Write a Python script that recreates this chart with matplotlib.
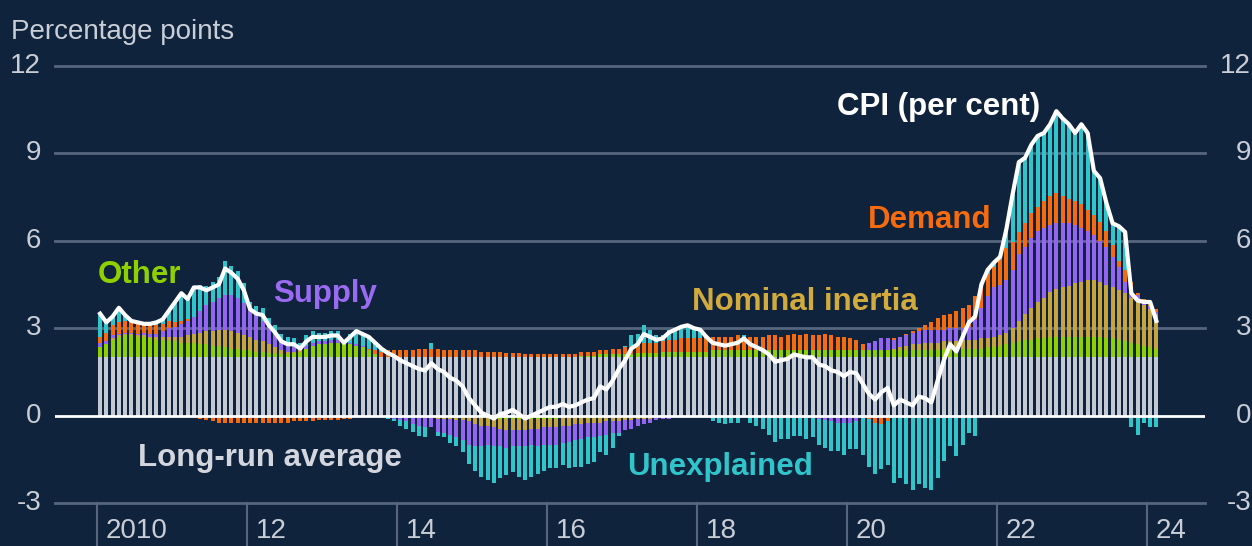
import numpy as np
import pandas as pd
import matplotlib
matplotlib.use("Agg")
import matplotlib.pyplot as plt

# monthly observations, Jan 2010 - Feb 2024
months = pd.date_range("2010-01-01", "2024-02-01", freq="MS")

cpi = [
    3.5, 3.2, 3.4, 3.7, 3.45, 3.25, 3.2, 3.15, 3.15, 3.2, 3.3, 3.6,        # 2010
    3.9, 4.2, 4.0, 4.4, 4.4, 4.3, 4.4, 4.5, 5.05, 4.9, 4.7, 4.3,           # 2011
    3.65, 3.5, 3.45, 3.1, 2.85, 2.55, 2.45, 2.45, 2.3, 2.55, 2.7, 2.7,     # 2012
    2.7, 2.75, 2.75, 2.5, 2.7, 2.9, 2.8, 2.7, 2.5, 2.3, 2.15, 2.05,        # 2013
    1.9, 1.8, 1.7, 1.6, 1.55, 1.8, 1.6, 1.5, 1.3, 1.2, 1.0, 0.6,           # 2014
    0.35, 0.1, 0.0, -0.1, 0.05, 0.1, 0.2, 0.05, -0.1, 0.0, 0.1, 0.2,       # 2015
    0.3, 0.3, 0.4, 0.3, 0.35, 0.45, 0.55, 0.6, 1.0, 0.9, 1.2, 1.6,         # 2016
    1.9, 2.3, 2.45, 2.8, 2.7, 2.6, 2.65, 2.85, 2.95, 3.05, 3.1, 3.0,       # 2017
    2.95, 2.7, 2.5, 2.45, 2.4, 2.45, 2.5, 2.65, 2.45, 2.35, 2.25, 2.1,     # 2018
    1.85, 1.9, 1.95, 2.1, 2.05, 2.0, 2.0, 1.75, 1.7, 1.55, 1.5, 1.35,      # 2019
    1.5, 1.45, 1.1, 0.75, 0.55, 0.8, 0.95, 0.35, 0.55, 0.45, 0.35, 0.65,   # 2020
    0.6, 0.45, 1.2, 1.9, 2.45, 2.2, 2.7, 3.2, 3.4, 4.5, 5.0, 5.25,         # 2021
    5.45, 6.4, 7.6, 8.7, 8.85, 9.3, 9.6, 9.7, 10.0, 10.45, 10.2, 10.0,     # 2022
    9.7, 10.0, 9.7, 8.4, 8.15, 7.3, 6.6, 6.5, 6.3, 4.2, 3.95, 3.9,         # 2023
    3.9, 3.25,                                                              # 2024
]

other = [
    0.35, 0.45, 0.6, 0.7, 0.75, 0.75, 0.7, 0.7, 0.65, 0.6, 0.6, 0.55,
    0.55, 0.5, 0.5, 0.5, 0.45, 0.45, 0.4, 0.4, 0.35, 0.3, 0.3, 0.25,
    0.25, 0.2, 0.2, 0.15, 0.15, 0.1, 0.1, 0.15, 0.2, 0.3, 0.4, 0.45,
    0.45, 0.5, 0.5, 0.45, 0.45, 0.4, 0.35, 0.25, 0.1, 0.0, 0.0, 0.0,
    0.0, 0.0, 0.0, 0.0, 0.0, 0.0, 0.0, 0.0, 0.0, 0.0, 0.0, 0.0,
    -0.05, -0.05, -0.05, -0.05, -0.1, -0.1, -0.1, -0.1, -0.1, -0.1, -0.1, -0.1,
    -0.1, -0.1, -0.05, -0.05, 0.0, 0.05, 0.05, 0.05, 0.1, 0.1, 0.1, 0.1,
    0.1, 0.1, 0.15, 0.15, 0.15, 0.15, 0.2, 0.2, 0.2, 0.2, 0.2, 0.2,
    0.2, 0.2, 0.25, 0.25, 0.25, 0.25, 0.25, 0.25, 0.25, 0.25, 0.25, 0.25,
    0.25, 0.25, 0.25, 0.25, 0.25, 0.25, 0.25, 0.25, 0.25, 0.25, 0.25, 0.25,
    0.25, 0.25, 0.25, 0.25, 0.25, 0.25, 0.25, 0.25, 0.25, 0.25, 0.25, 0.25,
    0.25, 0.25, 0.25, 0.3, 0.3, 0.3, 0.3, 0.3, 0.3, 0.3, 0.35, 0.35,
    0.4, 0.45, 0.5, 0.55, 0.6, 0.6, 0.65, 0.65, 0.7, 0.7, 0.7, 0.7,
    0.7, 0.7, 0.7, 0.7, 0.7, 0.65, 0.65, 0.6, 0.55, 0.5, 0.45, 0.4,
    0.35, 0.3,
]

nominal_inertia = [
    0.0, 0.0, 0.05, 0.05, 0.05, 0.05, 0.05, 0.05, 0.05, 0.1, 0.1, 0.15,
    0.15, 0.2, 0.25, 0.3, 0.4, 0.45, 0.5, 0.55, 0.6, 0.6, 0.55, 0.5,
    0.45, 0.4, 0.35, 0.3, 0.2, 0.15, 0.1, 0.05, 0.05, 0.0, 0.0, 0.0,
    0.0, 0.0, 0.0, 0.0, 0.0, 0.0, 0.0, 0.0, 0.0, 0.0, 0.0, 0.0,
    0.0, 0.0, -0.05, -0.05, -0.05, -0.05, -0.1, -0.1, -0.1, -0.15, -0.15, -0.2,
    -0.25, -0.3, -0.3, -0.35, -0.35, -0.4, -0.4, -0.4, -0.4, -0.35, -0.35, -0.3,
    -0.3, -0.3, -0.3, -0.3, -0.3, -0.3, -0.25, -0.25, -0.25, -0.2, -0.2, -0.2,
    -0.15, -0.15, -0.1, -0.1, -0.1, -0.05, -0.05, -0.05, 0.0, 0.0, 0.0, 0.0,
    0.0, -0.05, -0.05, -0.05, -0.05, -0.05, -0.05, -0.05, -0.05, -0.05, -0.05, -0.05,
    -0.05, -0.05, -0.05, -0.05, -0.05, -0.05, -0.05, -0.05, -0.05, -0.05, -0.05, -0.05,
    -0.05, -0.05, 0.0, 0.0, 0.0, 0.0, 0.0, 0.05, 0.1, 0.15, 0.2, 0.2,
    0.25, 0.25, 0.25, 0.25, 0.25, 0.25, 0.3, 0.3, 0.3, 0.35, 0.3, 0.35,
    0.35, 0.4, 0.5, 0.7, 0.9, 1.1, 1.25, 1.4, 1.55, 1.65, 1.7, 1.75,
    1.85, 1.9, 1.95, 1.95, 1.9, 1.85, 1.75, 1.7, 1.65, 1.55, 1.45, 1.4,
    1.3, 1.2,
]

supply = [
    0.15, 0.1, 0.1, 0.05, 0.05, 0.05, 0.05, 0.1, 0.1, 0.1, 0.2, 0.3,
    0.35, 0.45, 0.5, 0.6, 0.75, 0.9, 1.0, 1.1, 1.2, 1.25, 1.2, 1.1,
    1.0, 0.85, 0.7, 0.6, 0.5, 0.35, 0.25, 0.15, 0.1, 0.1, 0.1, 0.1,
    0.1, 0.1, 0.1, 0.1, 0.05, 0.05, 0.05, 0.0, 0.0, 0.0, -0.05, -0.1,
    -0.15, -0.2, -0.25, -0.3, -0.35, -0.35, -0.45, -0.5, -0.55, -0.6, -0.7, -0.8,
    -0.75, -0.7, -0.65, -0.65, -0.6, -0.6, -0.55, -0.55, -0.55, -0.55, -0.6, -0.6,
    -0.6, -0.6, -0.6, -0.55, -0.55, -0.5, -0.5, -0.5, -0.45, -0.45, -0.4, -0.4,
    -0.35, -0.3, -0.25, -0.2, -0.15, -0.1, -0.05, -0.05, -0.05, 0.0, 0.0, 0.0,
    0.0, 0.0, 0.0, 0.0, 0.0, 0.0, 0.0, 0.0, 0.0, 0.0, 0.0, 0.0,
    0.0, 0.0, 0.0, 0.0, 0.0, 0.0, 0.0, -0.05, -0.1, -0.15, -0.2, -0.2,
    -0.2, -0.15, -0.05, 0.25, 0.3, 0.4, 0.4, 0.3, 0.35, 0.35, 0.4, 0.45,
    0.45, 0.45, 0.45, 0.4, 0.45, 0.45, 0.4, 0.45, 0.7, 1.05, 1.45, 1.7,
    1.75, 1.8, 2.0, 2.3, 2.3, 2.4, 2.45, 2.4, 2.3, 2.25, 2.2, 2.15,
    2.0, 1.85, 1.7, 1.55, 1.4, 1.3, 1.05, 0.8, 0.4, 0.25, 0.25, 0.15,
    0.1, 0.05,
]

demand = [
    0.2, 0.3, 0.35, 0.4, 0.4, 0.35, 0.35, 0.3, 0.3, 0.3, 0.25, 0.25,
    0.15, 0.1, 0.05, -0.05, -0.1, -0.15, -0.2, -0.25, -0.25, -0.25, -0.25, -0.25,
    -0.25, -0.25, -0.25, -0.25, -0.25, -0.25, -0.25, -0.2, -0.2, -0.2, -0.2, -0.15,
    -0.15, -0.15, -0.15, -0.1, -0.1, -0.05, 0.0, 0.05, 0.15, 0.2, 0.25, 0.25,
    0.25, 0.25, 0.25, 0.3, 0.3, 0.3, 0.3, 0.25, 0.25, 0.25, 0.25, 0.25,
    0.25, 0.2, 0.2, 0.2, 0.2, 0.15, 0.15, 0.15, 0.1, 0.1, 0.1, 0.1,
    0.1, 0.1, 0.1, 0.1, 0.1, 0.15, 0.15, 0.15, 0.15, 0.15, 0.2, 0.2,
    0.25, 0.3, 0.3, 0.35, 0.35, 0.35, 0.35, 0.4, 0.4, 0.45, 0.45, 0.45,
    0.45, 0.45, 0.45, 0.45, 0.45, 0.45, 0.5, 0.45, 0.45, 0.45, 0.45, 0.5,
    0.5, 0.45, 0.5, 0.55, 0.5, 0.55, 0.5, 0.5, 0.55, 0.5, 0.45, 0.45,
    0.4, 0.35, 0.2, -0.1, -0.25, -0.3, -0.2, 0.05, 0.0, 0.05, 0.05, 0.1,
    0.15, 0.25, 0.4, 0.5, 0.5, 0.6, 0.7, 0.75, 0.8, 0.7, 0.75, 0.7,
    0.9, 1.1, 0.95, 0.75, 0.8, 0.85, 0.8, 0.9, 1.0, 1.05, 0.95, 0.85,
    0.8, 0.8, 0.7, 0.7, 0.65, 0.55, 0.4, 0.2, 0.4, 0.3, 0.05, 0.05,
    0.1, 0.1,
]

unexplained = [
    0.8, 0.35, 0.3, 0.5, 0.2, 0.05, 0.05, 0.0, 0.05, 0.1, 0.15, 0.35,
    0.7, 0.95, 0.7, 1.05, 0.9, 0.65, 0.7, 0.7, 1.15, 1.0, 0.9, 0.7,
    0.2, 0.3, 0.45, 0.3, 0.25, 0.2, 0.25, 0.3, 0.15, 0.35, 0.4, 0.3,
    0.3, 0.3, 0.3, 0.05, 0.3, 0.5, 0.4, 0.4, 0.25, 0.1, -0.05, -0.1,
    -0.2, -0.25, -0.25, -0.35, -0.35, 0.2, -0.15, -0.15, -0.3, -0.3, -0.4, -0.65,
    -0.85, -1.05, -1.2, -1.25, -1.1, -0.95, -0.9, -1.05, -1.15, -1.1, -0.95, -0.9,
    -0.8, -0.8, -0.75, -0.9, -0.9, -0.95, -0.9, -0.85, -0.55, -0.7, -0.5, -0.1,
    0.05, 0.35, 0.35, 0.6, 0.45, 0.25, 0.2, 0.35, 0.4, 0.4, 0.45, 0.35,
    0.3, 0.1, -0.15, -0.2, -0.25, -0.2, -0.2, 0.05, -0.2, -0.3, -0.4, -0.6,
    -0.85, -0.75, -0.75, -0.65, -0.65, -0.75, -0.7, -0.9, -0.95, -1.0, -0.95, -1.1,
    -0.9, -0.95, -1.3, -1.65, -1.75, -1.55, -1.5, -2.3, -2.15, -2.35, -2.55, -2.35,
    -2.5, -2.55, -2.15, -1.55, -1.05, -1.4, -1.0, -0.6, -0.7, 0.1, 0.15, 0.15,
    0.1, 0.65, 1.65, 2.4, 2.25, 2.35, 2.45, 2.35, 2.45, 2.8, 2.65, 2.55,
    2.35, 2.75, 2.65, 1.5, 1.5, 0.95, 0.75, 1.2, 1.3, -0.4, -0.65, -0.25,
    -0.4, -0.4,
]

long_run_avg = [2.0] * len(months)

year_ticks = [2010, 2012, 2014, 2016, 2018, 2020, 2022, 2024]
y_ticks = [-3, 0, 3, 6, 9, 12]

BG = "#10233d"
GRID = "#56667d"
TXT = "#c9cdd6"
C_LR = "#c4c8d2"
C_OTHER = "#8fd100"
C_INERTIA = "#c7a43c"
C_SUPPLY = "#9464f2"
C_DEMAND = "#f66b0e"
C_UNEXP = "#30c4cb"

plt.rcParams["font.family"] = ["Liberation Sans", "DejaVu Sans"]

W, H = 1252, 546
fig = plt.figure(figsize=(W / 100, H / 100), dpi=100)
fig.patch.set_facecolor(BG)
ax = fig.add_axes([55 / W, 43 / H, 1150 / W, 437 / H])
ax.set_facecolor(BG)

# x in months since Jan 2010, bar centred in its month
x = (months.year - 2010) * 12 + months.month - 0.5

components = [
    (long_run_avg, C_LR),
    (other, C_OTHER),
    (nominal_inertia, C_INERTIA),
    (supply, C_SUPPLY),
    (demand, C_DEMAND),
    (unexplained, C_UNEXP),
]
pos_base = np.zeros(len(months))
neg_base = np.zeros(len(months))
for vals, col in components:
    v = np.array(vals, dtype=float)
    pos = np.where(v > 0, v, 0)
    neg = np.where(v < 0, v, 0)
    ax.bar(x, pos, bottom=pos_base, width=0.62, color=col, linewidth=0, zorder=2)
    ax.bar(x, neg, bottom=neg_base, width=0.62, color=col, linewidth=0, zorder=2)
    pos_base += pos
    neg_base += neg

for yv in [-3, 3, 6, 9, 12]:
    ax.axhline(yv, color=GRID, lw=2, zorder=1, clip_on=False)
ax.axhline(0, color="white", lw=2, zorder=3)

ax.plot(x, cpi, color="white", lw=3.0, zorder=5, solid_joinstyle="round")

ax.set_xlim((55 - 97) / 6.25, (1205 - 97) / 6.25)
ax.set_ylim(-3, 12)
for s in ax.spines.values():
    s.set_visible(False)
ax.set_xticks([])
ax.set_yticks([])

# y labels on both sides
for yv in y_ticks:
    ax.text(-0.012, yv, str(yv), transform=ax.get_yaxis_transform(),
            ha="right", va="center", fontsize=20, color=TXT, clip_on=False)
    ax.text(1.04, yv, str(yv), transform=ax.get_yaxis_transform(),
            ha="right", va="center", fontsize=20, color=TXT, clip_on=False)

# year ticks hang below the axis
for yr in year_ticks:
    xp = (yr - 2010) * 12
    ax.plot([xp, xp], [-3, -4.7], color=GRID, lw=1.5, clip_on=False, zorder=1)
    lab = str(yr) if yr == 2010 else f"{yr % 100:02d}"
    ax.text(xp + 1.4, -3.53, lab, ha="left", va="top", fontsize=20,
            color=TXT, clip_on=False)

fig.text(11 / W, 1 - 39 / H, "Percentage points", fontsize=20, color=TXT,
         va="baseline", ha="left")

labels = [
    ("CPI (per cent)", 837, 115, "white"),
    ("Demand", 868, 228, C_DEMAND),
    ("Nominal inertia", 692, 310, "#d2ab3c"),
    ("Other", 98, 283, C_OTHER),
    ("Supply", 273, 302, "#9a6af2"),
    ("Long-run average", 138, 466, "#d3d6de"),
    ("Unexplained", 627, 475, C_UNEXP),
]
for text, px, py, col in labels:
    fig.text(px / W, 1 - py / H, text, fontsize=22.5, fontweight="bold",
             color=col, ha="left", va="baseline")

fig.savefig("out.png", dpi=100, facecolor=BG)
